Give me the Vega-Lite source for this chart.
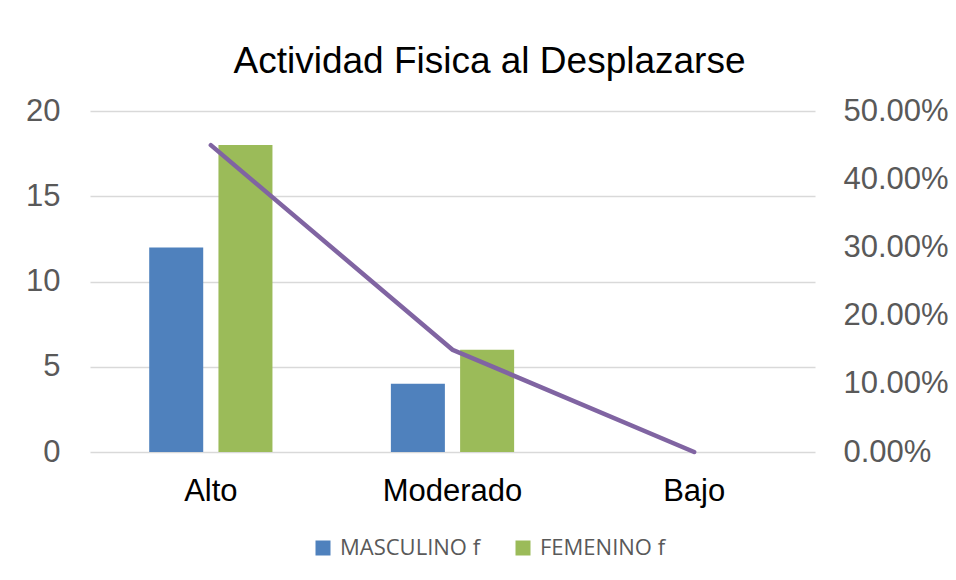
{
  "$schema": "https://vega.github.io/schema/vega-lite/v6.json",
  "width": 725,
  "height": 341,
  "autosize": {"type": "none"},
  "padding": {"left": 90, "top": 111, "right": 141, "bottom": 128},
  "background": "white",
  "title": {
    "text": "Actividad Fisica al Desplazarse",
    "font": "Liberation Sans",
    "fontSize": 37,
    "fontWeight": "normal",
    "color": "#000000",
    "anchor": "middle",
    "baseline": "alphabetic",
    "offset": -15,
    "dx": 37
  },
  "datasets": {
    "bars": [
      {"nivel": "Alto", "sexo": "MASCULINO f", "f": 12},
      {"nivel": "Alto", "sexo": "FEMENINO f", "f": 18},
      {"nivel": "Moderado", "sexo": "MASCULINO f", "f": 4},
      {"nivel": "Moderado", "sexo": "FEMENINO f", "f": 6},
      {"nivel": "Bajo", "sexo": "MASCULINO f", "f": 0},
      {"nivel": "Bajo", "sexo": "FEMENINO f", "f": 0}
    ],
    "linea": [
      {"nivel": "Alto", "pct": 0.45},
      {"nivel": "Moderado", "pct": 0.15},
      {"nivel": "Bajo", "pct": 0.0}
    ]
  },
  "layer": [
    {
      "data": {"name": "bars"},
      "mark": {"type": "bar"},
      "encoding": {
        "x": {
          "field": "nivel",
          "type": "nominal",
          "sort": ["Alto", "Moderado", "Bajo"],
          "scale": {"paddingInner": 0.49, "paddingOuter": 0.245},
          "axis": {
            "title": null,
            "domain": false,
            "ticks": false,
            "labelAngle": 0,
            "labelFont": "Liberation Sans",
            "labelFontSize": 31,
            "labelColor": "#000000",
            "labelPadding": 24,
            "labelBaseline": "top"
          }
        },
        "xOffset": {
          "field": "sexo",
          "type": "nominal",
          "sort": ["MASCULINO f", "FEMENINO f"],
          "scale": {"paddingInner": 0.22, "paddingOuter": 0}
        },
        "y": {
          "field": "f",
          "type": "quantitative",
          "scale": {"domain": [0, 20], "nice": false},
          "axis": {
            "title": null,
            "values": [0, 5, 10, 15, 20],
            "domain": false,
            "ticks": false,
            "grid": true,
            "gridColor": "#d9d9d9",
            "gridWidth": 1.5,
            "labelFont": "Liberation Sans",
            "labelFontSize": 31,
            "labelColor": "#595959",
            "labelPadding": 30
          }
        },
        "color": {
          "field": "sexo",
          "type": "nominal",
          "sort": ["MASCULINO f", "FEMENINO f"],
          "scale": {"domain": ["MASCULINO f", "FEMENINO f"], "range": ["#4F81BD", "#9BBB59"]},
          "legend": {
            "title": null,
            "orient": "none",
            "direction": "horizontal",
            "legendX": 222,
            "legendY": 426,
            "symbolType": "square",
            "symbolSize": 225,
            "symbolStrokeWidth": 0,
            "labelFont": "Open Sans",
            "labelFontSize": 22,
            "labelColor": "#595959",
            "labelOffset": 6,
            "columnPadding": 31
          }
        }
      }
    },
    {
      "data": {"name": "linea"},
      "mark": {"type": "line", "color": "#8064A2", "strokeWidth": 4.5, "strokeCap": "round"},
      "encoding": {
        "x": {"field": "nivel", "type": "nominal", "sort": ["Alto", "Moderado", "Bajo"]},
        "y": {
          "field": "pct",
          "type": "quantitative",
          "scale": {"domain": [0, 0.5], "nice": false},
          "axis": {
            "title": null,
            "orient": "right",
            "values": [0, 0.1, 0.2, 0.3, 0.4, 0.5],
            "format": ".2%",
            "domain": false,
            "ticks": false,
            "grid": false,
            "labelFont": "Liberation Sans",
            "labelFontSize": 31,
            "labelColor": "#595959",
            "labelPadding": 28
          }
        }
      }
    }
  ],
  "resolve": {"scale": {"y": "independent"}},
  "config": {"view": {"stroke": null}}
}
